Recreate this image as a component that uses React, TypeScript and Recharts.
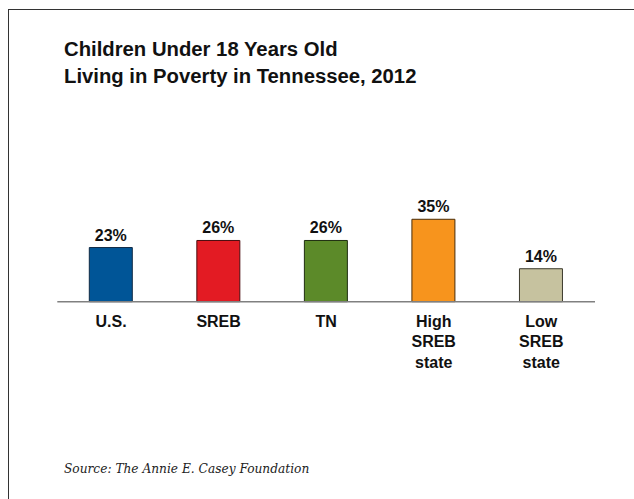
import React from 'react';
import { BarChart, Bar, XAxis, YAxis, Cell, LabelList } from 'recharts';

// data
const categories = ['U.S.', 'SREB', 'TN', 'High\nSREB\nstate', 'Low\nSREB\nstate'];
const povertyRate = [23, 26, 26, 35, 14];

const fills = ['#005597', '#e31b23', '#5c8a29', '#f7941d', '#c6c29f'];
const strokes = ['#102a44', '#4a0c0e', '#1f2e10', '#4a2c08', '#3c3a2c'];

const data = categories.map((name, i) => ({ name, value: povertyRate[i] }));

const sans = '"Liberation Sans", Arial, sans-serif';

const CategoryTick = (props: any) => {
  const { x, y, payload } = props;
  const lines = String(payload.value).split('\n');
  return (
    <text
      x={x}
      y={y}
      textAnchor="middle"
      fontFamily={sans}
      fontWeight="bold"
      fontSize={16}
      fill="#111"
    >
      {lines.map((line, i) => (
        <tspan key={i} x={x} dy={i === 0 ? 25 : 20.5}>
          {line}
        </tspan>
      ))}
    </text>
  );
};

export default function App() {
  return (
    <div
      style={{
        position: 'fixed',
        left: 0,
        top: 0,
        width: 634,
        height: 499,
        background: '#fff',
        overflow: 'hidden',
      }}
    >
      {/* frame: left and top edges only */}
      <div
        style={{
          position: 'absolute',
          left: 8,
          top: 9,
          width: 640,
          height: 520,
          borderLeft: '1px solid #333',
          borderTop: '1px solid #333',
        }}
      />
      <div
        style={{
          position: 'absolute',
          left: 64,
          top: 35.5,
          fontFamily: sans,
          fontWeight: 'bold',
          fontSize: 20.3,
          lineHeight: '27px',
          color: '#111',
          whiteSpace: 'nowrap',
        }}
      >
        Children Under 18 Years Old
        <br />
        Living in Poverty in Tennessee, 2012
      </div>

      <div style={{ position: 'absolute', left: 0, top: 0 }}>
        <BarChart
          width={634}
          height={499}
          data={data}
          margin={{ top: 207.5, right: 39, bottom: 0, left: 57.3 }}
        >
          <YAxis hide domain={[0, 40]} />
          <XAxis
            dataKey="name"
            interval={0}
            height={197.3}
            tickLine={false}
            tickSize={0}
            tickMargin={0}
            axisLine={{ stroke: '#808080', strokeWidth: 1.5 }}
            tick={<CategoryTick />}
          />
          <Bar dataKey="value" barSize={43} isAnimationActive={false} strokeWidth={1}>
            {data.map((d, i) => (
              <Cell key={d.name} fill={fills[i]} stroke={strokes[i]} />
            ))}
            <LabelList
              dataKey="value"
              position="top"
              offset={7}
              formatter={(v: any) => `${v}%`}
              fill="#111"
              fontFamily={sans}
              fontWeight="bold"
              fontSize={16}
            />
          </Bar>
        </BarChart>
      </div>

      <div
        style={{
          position: 'absolute',
          left: 64,
          top: 459,
          fontFamily: '"DejaVu Serif", Georgia, serif',
          fontStyle: 'italic',
          fontSize: 12.2,
          lineHeight: '20px',
          color: '#222',
          whiteSpace: 'nowrap',
        }}
      >
        Source: The Annie E. Casey Foundation
      </div>
    </div>
  );
}
